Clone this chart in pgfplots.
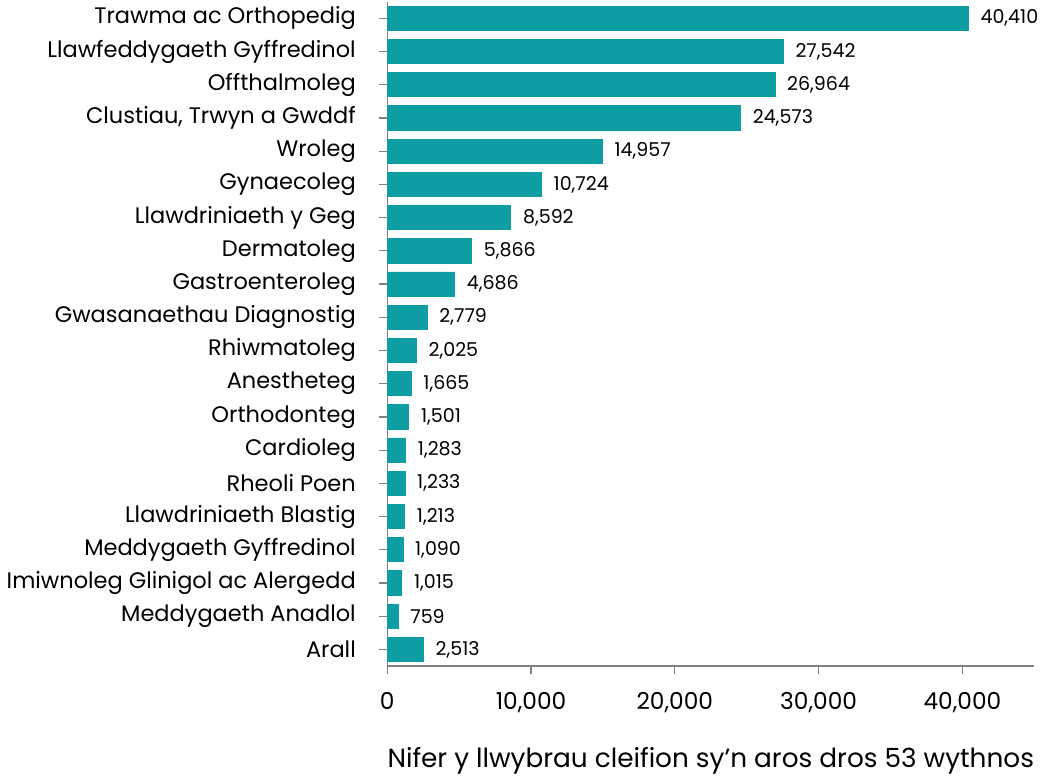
\documentclass[border=0pt]{standalone}
\usepackage{pgfplots}
\pgfplotsset{compat=1.18}
\usepackage{fontspec}
\setmainfont{Poppins}
\definecolor{bar}{HTML}{0E9DA3}
\definecolor{axg}{HTML}{7F7F7F}
\begin{document}
\begin{tikzpicture}
\begin{axis}[
  scale only axis,
  width=319.5pt, height=328pt,
  xbar, bar width=0.73,
  xmin=0, xmax=45000,
  ymin=-0.5, ymax=19.5, y dir=reverse,
  axis x line*=bottom, axis y line*=left,
  axis line style={axg, line width=0.6pt},
  tick style={axg, line width=0.6pt},
  tick align=outside,
  major tick length=4pt,
  xtick={0,10000,20000,30000,40000},
  ytick={0,...,19},
  yticklabels={Trawma ac Orthopedig,Llawfeddygaeth Gyffredinol,Offthalmoleg,{Clustiau, Trwyn a Gwddf},Wroleg,Gynaecoleg,Llawdriniaeth y Geg,Dermatoleg,Gastroenteroleg,Gwasanaethau Diagnostig,Rhiwmatoleg,Anestheteg,Orthodonteg,Cardioleg,Rheoli Poen,Llawdriniaeth Blastig,Meddygaeth Gyffredinol,Imiwnoleg Glinigol ac Alergedd,Meddygaeth Anadlol,Arall},
  scaled x ticks=false,
  /pgf/number format/.cd, 1000 sep={,}, assume math mode=true,
  /pgfplots/.cd,
  xticklabel style={font=\fontsize{11.5}{13}\selectfont, yshift=-5.5pt},
  yticklabel style={font=\fontsize{11.1}{13}\selectfont, text=black, xshift=-8pt},
  xlabel={Nifer y llwybrau cleifion sy'n aros dros 53 wythnos},
  xlabel style={font=\fontsize{13}{15}\selectfont, yshift=-10pt},
  nodes near coords,
  nodes near coords style={font=\fontsize{9.4}{11}\selectfont, /pgf/number format/1000 sep={,}, /pgf/number format/assume math mode=true, xshift=2.5pt},
  clip=false,
]
\addplot[fill=bar, draw=bar] coordinates {
(40410,0) (27542,1) (26964,2) (24573,3) (14957,4) (10724,5) (8592,6) (5866,7) (4686,8) (2779,9) (2025,10) (1665,11) (1501,12) (1283,13) (1233,14) (1213,15) (1090,16) (1015,17) (759,18) (2513,19)
};
\end{axis}
\end{tikzpicture}
\end{document}
